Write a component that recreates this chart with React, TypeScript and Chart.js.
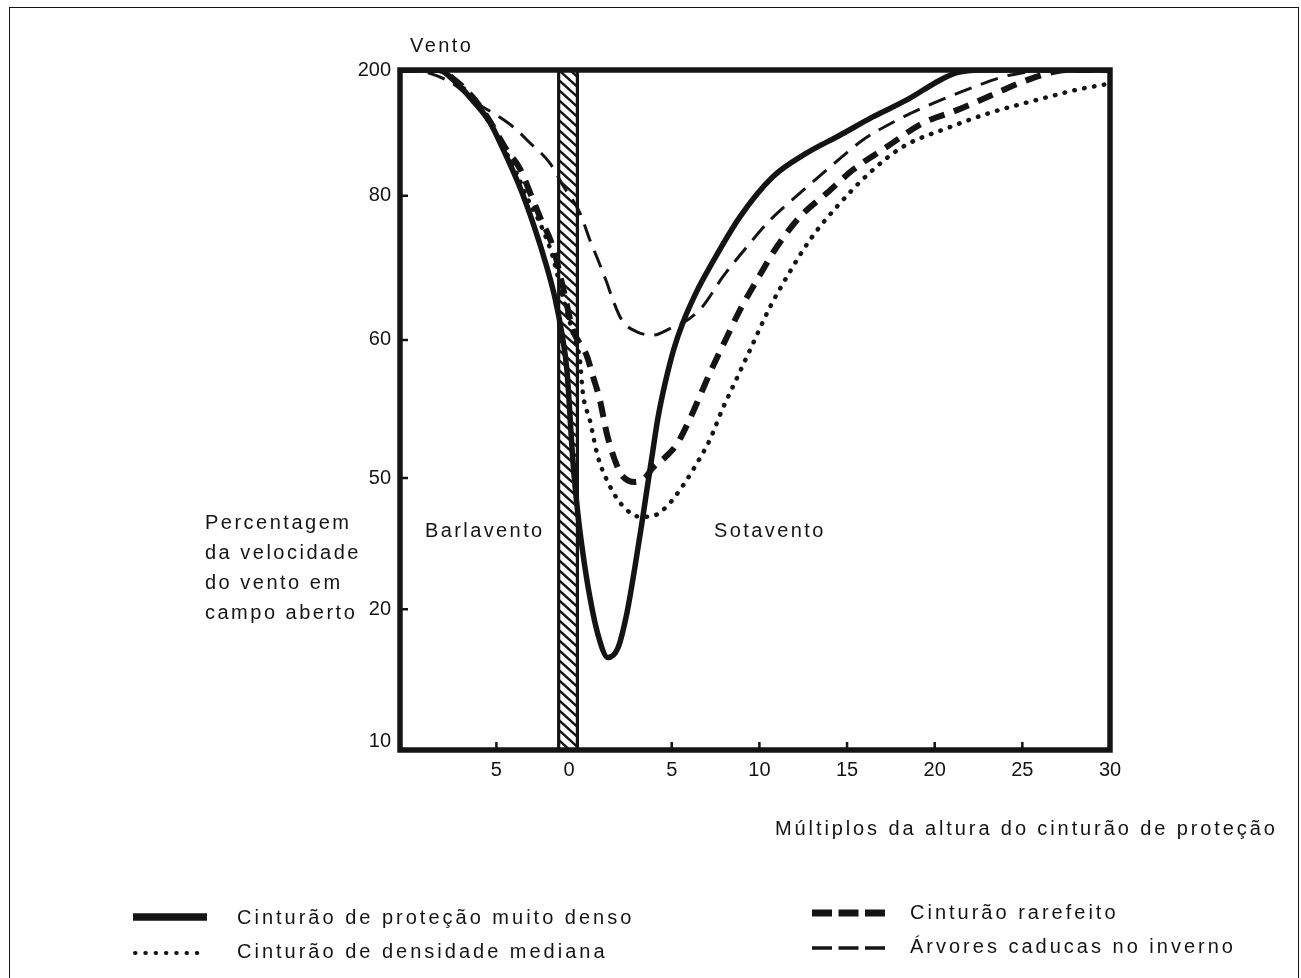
import React, { useEffect, useRef } from 'react';
import { Chart, registerables } from 'chart.js';

Chart.register(...registerables);

// ---- axes ----
const X_MIN = -10.5;
const X_MAX = 30;
const Y_MIN = 0;
const Y_MAX = 100;
const xTickValues = [-5, -0.85, 5, 10, 15, 20, 25, 30];
const xTickLabels = ['5', '0', '5', '10', '15', '20', '25', '30'];
const yTickValues = [1.3, 20.7, 40, 60.3, 81.5, 100];
const yTickLabels = ['10', '20', '50', '60', '80', '200'];

// barrier (hatched strip) extent on the x axis
const barrierFrom = -1.45;
const barrierTo = -0.38;

// ---- series ----
const densoX = [-10.5, -8.3, -7.4, -6.35, -5.37, -4.7, -3.7, -2.85, -2.12, -1.67, -1.27, -0.98, -0.64, -0.36, -0.07, 0.33, 0.79, 1.36, 1.93, 2.44, 2.9, 3.3, 3.58, 3.87, 4.21, 4.61, 5.1, 5.63, 6.4, 7.17, 8.89, 10.77, 12.71, 14.59, 16.47, 18.41, 20.3, 21.27, 22.6, 30];
const densoY = [100, 100, 98.4, 95.5, 92.3, 88.8, 83.0, 77.0, 71.0, 66.6, 61.3, 55.9, 42.6, 34.9, 29.0, 22.5, 17.0, 13.6, 15.0, 20.1, 26.9, 33.4, 38.2, 43.1, 48.8, 53.8, 58.8, 62.8, 67.3, 71.0, 78.4, 84.3, 87.8, 90.4, 93.1, 95.6, 98.5, 99.6, 100, 100];

const medianaX = [-10.5, -8.3, -7.4, -6.35, -5.0, -3.8, -3.26, -2.52, -1.78, -1.3, -0.64, -0.24, -0.07, 0.33, 0.79, 1.3, 1.93, 2.79, 3.35, 3.92, 4.78, 5.75, 6.49, 7.17, 7.92, 8.32, 9.46, 10.6, 11.57, 12.88, 14.42, 16.3, 18.18, 20.87, 23.15, 25.83, 28.11, 30];
const medianaY = [100, 100, 98.5, 95.8, 90.5, 84.5, 81.3, 77.5, 72.5, 67.5, 61.3, 57.4, 52.5, 48.5, 43.1, 39.7, 36.8, 34.6, 34.3, 34.4, 36.0, 39.3, 42.4, 45.6, 50.3, 52.5, 58.8, 65.1, 69.6, 75.0, 79.9, 84.9, 88.7, 91.6, 93.7, 95.6, 97.1, 98.0];

const rarefeitoX = [-10.5, -8.3, -7.4, -6.35, -5.5, -4.41, -3.66, -2.98, -2.52, -1.78, -1.2, -0.64, 0.15, 0.5, 0.9, 1.3, 1.76, 2.16, 2.9, 3.47, 3.92, 4.61, 5.3, 6.0, 6.6, 7.17, 8.14, 8.89, 9.86, 11.0, 12.31, 13.85, 15.33, 17.27, 19.33, 21.27, 22.98, 24.86, 26.17, 27.5, 30];
const rarefeitoY = [100, 100, 98.6, 96.0, 93.0, 88.2, 85.5, 81.3, 78.4, 74.0, 68.0, 61.8, 58.0, 55.0, 51.5, 46.5, 42.6, 40.4, 39.4, 40.0, 41.5, 43.0, 45.0, 48.5, 52.0, 55.4, 60.7, 64.7, 69.1, 74.0, 78.4, 81.9, 85.3, 88.7, 92.2, 94.1, 96.0, 98.1, 99.3, 100, 100];

const caducasX = [-10.5, -8.8, -7.37, -6.12, -5.2, -3.84, -3.26, -1.95, -1.2, -0.24, 0.33, 0.79, 1.3, 1.64, 2.16, 3.01, 3.92, 5.01, 5.63, 6.72, 7.92, 9.29, 10.6, 12.31, 14.02, 15.9, 17.84, 19.9, 21.84, 23.89, 25.03, 26.0, 30];
const caducasY = [100, 99.5, 97.8, 95.1, 93.7, 91.2, 89.7, 86.3, 83.0, 79.0, 75.0, 72.1, 68.7, 66.2, 63.2, 61.5, 61.0, 62.1, 62.8, 65.1, 69.6, 74.0, 77.9, 81.9, 85.7, 89.7, 92.6, 95.1, 97.1, 99.0, 99.6, 100, 100];

const seriesNames = [
  'Cinturão de proteção muito denso',
  'Cinturão de densidade mediana',
  'Cinturão rarefeito',
  'Árvores caducas no inverno',
];

const INK = '#141414';
const FONT = '"Liberation Sans", Arial, Helvetica, sans-serif';

const toPoints = (xs: number[], ys: number[]) => xs.map((x, i) => ({ x, y: ys[i] }));

const decorPlugin = {
  id: 'decor',
  beforeDatasetsDraw(chart: any) {
    const { ctx, chartArea, scales } = chart;
    const x0 = scales.x.getPixelForValue(barrierFrom);
    const x1 = scales.x.getPixelForValue(barrierTo);
    const top = chartArea.top;
    const bottom = chartArea.bottom;
    ctx.save();
    ctx.fillStyle = '#fff';
    ctx.fillRect(x0, top, x1 - x0, bottom - top);
    ctx.beginPath();
    ctx.rect(x0, top, x1 - x0, bottom - top);
    ctx.clip();
    ctx.strokeStyle = INK;
    ctx.lineWidth = 2.4;
    const w = x1 - x0;
    for (let y = top - 20; y < bottom + 20; y += 10) {
      ctx.beginPath();
      ctx.moveTo(x0, y);
      ctx.lineTo(x1, y + w * 0.9);
      ctx.stroke();
    }
    ctx.restore();
    ctx.save();
    ctx.strokeStyle = INK;
    ctx.lineWidth = 3.2;
    ctx.beginPath();
    ctx.moveTo(x0, top);
    ctx.lineTo(x0, bottom);
    ctx.moveTo(x1, top);
    ctx.lineTo(x1, bottom);
    ctx.stroke();
    ctx.restore();
  },
  afterDatasetsDraw(chart: any) {
    const { ctx, chartArea, scales } = chart;
    const { left, right, top, bottom } = chartArea;
    ctx.save();
    ctx.strokeStyle = INK;
    ctx.lineCap = 'square';
    ctx.lineWidth = 5.5;
    ctx.beginPath();
    ctx.moveTo(left, bottom);
    ctx.lineTo(left, top);
    ctx.lineTo(right, top);
    ctx.lineTo(right, bottom);
    ctx.lineTo(left, bottom);
    ctx.stroke();
    ctx.lineWidth = 2.5;
    ctx.lineCap = 'butt';
    ctx.beginPath();
    xTickValues.forEach((v, i) => {
      if (i === 1 || i === xTickValues.length - 1) return;
      const px = scales.x.getPixelForValue(v);
      ctx.moveTo(px, bottom);
      ctx.lineTo(px, bottom - 8);
    });
    yTickValues.forEach((v, i) => {
      if (i === 0 || i === yTickValues.length - 1) return;
      const py = scales.y.getPixelForValue(v);
      ctx.moveTo(left, py);
      ctx.lineTo(left + 8, py);
    });
    ctx.stroke();
    ctx.restore();
  },
};

const textStyle: React.CSSProperties = {
  position: 'absolute',
  fontFamily: FONT,
  fontSize: 20,
  lineHeight: '24px',
  letterSpacing: '2.4px',
  color: INK,
  whiteSpace: 'nowrap',
};

function Label({ x, cy, children, spacing }: { x: number; cy: number; children: React.ReactNode; spacing?: number }) {
  const extra: React.CSSProperties = spacing !== undefined ? { letterSpacing: `${spacing}px` } : {};
  return <div style={{ ...textStyle, left: x, top: cy - 12, ...extra }}>{children}</div>;
}

export default function App() {
  const canvasRef = useRef<HTMLCanvasElement | null>(null);

  useEffect(() => {
    if (!canvasRef.current) return;
    const common = {
      borderColor: INK,
      pointRadius: 0,
      fill: false,
      cubicInterpolationMode: 'monotone' as const,
      borderJoinStyle: 'round' as const,
    };
    const chart = new Chart(canvasRef.current, {
      type: 'line',
      data: {
        datasets: [
          { ...common, label: seriesNames[3], data: toPoints(caducasX, caducasY), borderWidth: 3, borderDash: [18, 10] },
          { ...common, label: seriesNames[1], data: toPoints(medianaX, medianaY), borderWidth: 4.5, borderDash: [0.5, 9.5], borderCapStyle: 'round' as const },
          { ...common, label: seriesNames[2], data: toPoints(rarefeitoX, rarefeitoY), borderWidth: 6, borderDash: [16, 10] },
          { ...common, label: seriesNames[0], data: toPoints(densoX, densoY), borderWidth: 5.5 },
        ],
      },
      options: {
        animation: false,
        responsive: false,
        maintainAspectRatio: false,
        layout: { padding: { left: 340, right: 191, top: 70, bottom: 178 } },
        plugins: { legend: { display: false }, tooltip: { enabled: false } },
        scales: {
          x: {
            type: 'linear',
            min: X_MIN,
            max: X_MAX,
            afterBuildTicks: (s: any) => {
              s.ticks = xTickValues.map((v) => ({ value: v }));
            },
            afterFit: (s: any) => {
              s.height = 50;
            },
            ticks: {
              callback: (_v: any, i: number) => xTickLabels[i],
              autoSkip: false,
              maxRotation: 0,
              padding: 8,
              color: INK,
              font: { family: FONT, size: 20 },
            },
            grid: { display: false, drawTicks: false },
            border: { display: false },
          },
          y: {
            type: 'linear',
            min: Y_MIN,
            max: Y_MAX,
            afterBuildTicks: (s: any) => {
              s.ticks = yTickValues.map((v) => ({ value: v }));
            },
            afterFit: (s: any) => {
              s.width = 60;
            },
            ticks: {
              callback: (_v: any, i: number) => yTickLabels[i],
              autoSkip: false,
              padding: 9,
              color: INK,
              font: { family: FONT, size: 20 },
            },
            grid: { display: false, drawTicks: false },
            border: { display: false },
          },
        },
      },
      plugins: [decorPlugin],
    });
    return () => chart.destroy();
  }, []);

  return (
    <div style={{ position: 'fixed', left: 0, top: 0, width: 1301, height: 978, background: '#fff', overflow: 'hidden' }}>
      <div style={{ position: 'absolute', left: 9, top: 7, width: 1288, height: 980, borderTop: `1.5px solid ${INK}`, borderLeft: `1.5px solid ${INK}`, borderRight: `1.5px solid ${INK}` }} />
      <canvas ref={canvasRef} width={1301} height={978} style={{ position: 'absolute', left: 0, top: 0, width: 1301, height: 978 }} />
      <Label x={410} cy={45}>Vento</Label>
      <div style={{ ...textStyle, left: 205, top: 507, lineHeight: '30px', letterSpacing: '2.5px' }}>
        Percentagem<br />da velocidade<br />do vento em<br />campo aberto
      </div>
      <Label x={425} cy={530}>Barlavento</Label>
      <Label x={714} cy={530}>Sotavento</Label>
      <Label x={775} cy={828} spacing={2.9}>Múltiplos da altura do cinturão de proteção</Label>
      <svg width={1301} height={978} style={{ position: 'absolute', left: 0, top: 0, pointerEvents: 'none' }}>
        <line x1={133} y1={917} x2={207} y2={917} stroke={INK} strokeWidth={7.5} />
        <line x1={135} y1={953} x2={207} y2={953} stroke={INK} strokeWidth={4} strokeDasharray="0.5 9.8" strokeLinecap="round" />
        <line x1={812} y1={913} x2={885} y2={913} stroke={INK} strokeWidth={7} strokeDasharray="20 6.5" />
        <line x1={812} y1={948} x2={885} y2={948} stroke={INK} strokeWidth={3.5} strokeDasharray="20 6.5" />
      </svg>
      <Label x={237} cy={917} spacing={3.0}>{seriesNames[0]}</Label>
      <Label x={237} cy={951} spacing={3.0}>{seriesNames[1]}</Label>
      <Label x={910} cy={912} spacing={3.0}>{seriesNames[2]}</Label>
      <Label x={910} cy={946} spacing={3.0}>{seriesNames[3]}</Label>
    </div>
  );
}
